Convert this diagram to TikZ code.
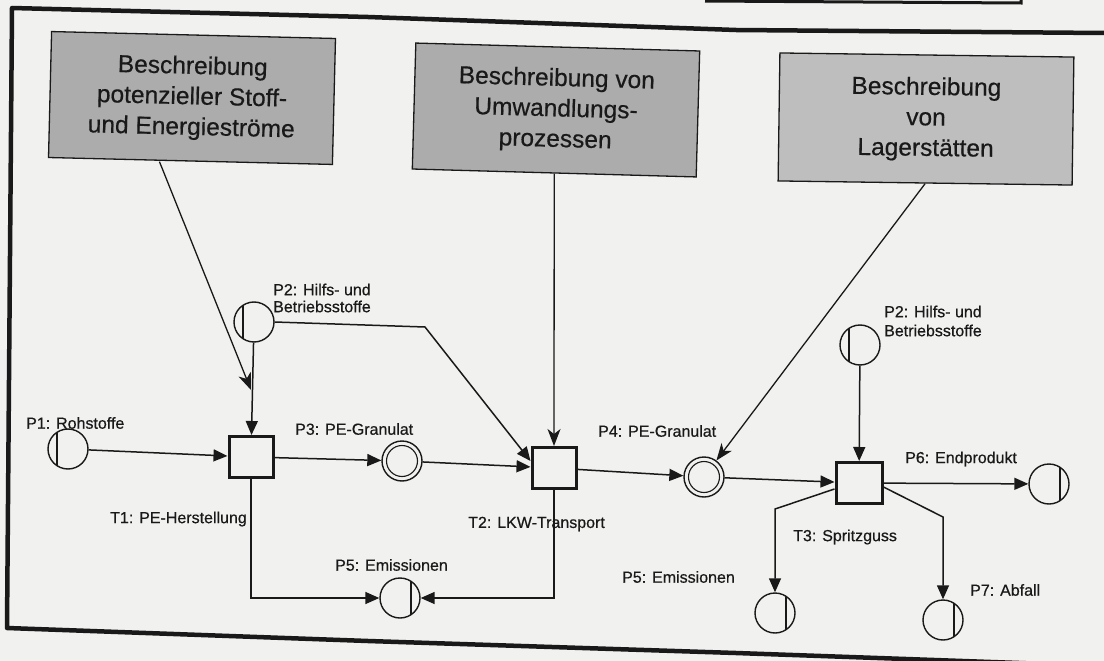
\documentclass[tikz,border=0pt]{standalone}
\usepackage{fontspec}
\setmainfont{Liberation Sans}[FakeBold=0.5]
\usetikzlibrary{arrows.meta,calc}
\definecolor{paper}{RGB}{241,241,239}
\definecolor{boxgray}{RGB}{172,172,172}
\definecolor{boxlight}{RGB}{190,190,190}
\definecolor{ink}{RGB}{25,25,25}
\tikzset{
  desc/.style={draw=ink, line width=1.3pt, fill=boxgray, minimum width=284pt, minimum height=126pt,
    align=center, font=\fontsize{24.5}{30.5}\selectfont, inner sep=0pt, text=ink},
  place/.style={circle, draw=ink, line width=1.4pt, minimum size=40pt, inner sep=0pt},
  srcplace/.style={place, path picture={\draw[ink, line width=1.1pt]
      ([xshift=-11pt]path picture bounding box.north) -- ([xshift=-11pt]path picture bounding box.south);}},
  sinkplace/.style={place, path picture={\draw[ink, line width=1.1pt]
      ([xshift=11pt]path picture bounding box.north) -- ([xshift=11pt]path picture bounding box.south);}},
  dplace/.style={place, path picture={\draw[ink, line width=1.1pt]
      (path picture bounding box.center) circle[radius=15.5pt];}},
  trans/.style={draw=ink, line width=3pt, minimum width=44pt, minimum height=41pt, inner sep=0pt},
  lbl/.style={font=\fontsize{16}{17}\selectfont, inner sep=0pt, text=ink},
  flow/.style={draw=ink, line width=1.5pt, -{Triangle[length=14pt,width=12pt]}},
  link/.style={draw=ink, line width=1.3pt, -{Stealth[length=17pt,width=13pt,inset=5pt]}},
  frameline/.style={draw=ink, line width=4.5pt, line join=round},
}
\begin{document}
\begin{tikzpicture}[x=1pt,y=-1pt]
\useasboundingbox (0,0) rectangle (1104,661);
\fill[paper] (0,0) rectangle (1104,661);

% outer frame and the edge of the figure above
\draw[frameline] (1104,33) -- (736,30) -- (368,17) -- (12,8) -- (7,628) -- (368,641) -- (736,653) -- (1104,666);
\draw[draw=ink, line width=3pt] (705,1) -- (1021,3) -- (1021,-3);

% description boxes
\node[desc, rotate=-1.4] (box1) at (192,98) {Beschreibung\\potenzieller Stoff-\\und Energieströme};
\node[desc, rotate=-1.6] (box2) at (556,110) {Beschreibung von\\Umwandlungs-\\prozessen};
\node[desc, fill=boxlight, minimum width=294pt, minimum height=128pt, rotate=-0.8] (box3) at (926,119) {Beschreibung\\von\\Lagerstätten};

% places
\node[srcplace] (p1) at (68,449) {};
\node[srcplace] (p2a) at (254,322) {};
\node[dplace] (p3) at (402,461) {};
\node[dplace] (p4) at (704,477) {};
\node[sinkplace] (p5a) at (400,598) {};
\node[srcplace] (p2b) at (860,345) {};
\node[sinkplace] (p6) at (1049,484) {};
\node[sinkplace] (p5b) at (775,613) {};
\node[sinkplace] (p7) at (943,620) {};

% transitions
\node[trans] (t1) at (251,457) {};
\node[trans] (t2) at (554,468) {};
\node[trans, minimum width=46pt] (t3) at (859,483) {};

% helper points
\coordinate (m1) at (251,390);
\coordinate (k1) at (425,327);
\coordinate (k2) at (775,509);
\coordinate (k3) at (943,517);

% links from description boxes
\draw[link] ([xshift=-31pt]box1.south) -- (m1);
\draw[link] (box2.south) -- (t2.north);
\draw[link] (box3.south) -- (p4);

% flows
\draw[flow] (p1) -- (t1);
\draw[flow] (p2a) -- (t1);
\draw[flow] (p2a.east) -- (k1) -- ($(t2.west)+(0,-7)$);
\draw[flow] (t1) -- (p3);
\draw[flow] (p3) -- (t2);
\draw[flow] (t2) -- (p4);
\draw[flow] (p4) -- (t3);
\draw[flow] (p2b) -- (t3);
\draw[flow] (t3) -- (p6);
\draw[flow] ($(t3.west)+(0,6)$) -- (k2) -- (p5b);
\draw[flow] ($(t3.east)+(0,4)$) -- (k3) -- (p7);
\draw[flow] (t1.south) |- (p5a.west);
\draw[flow] (t2.south) |- (p5a.east);

% labels
\node[lbl, anchor=west] (lp1) at (26,423) {P1: Rohstoffe};
\node[lbl, anchor=west, align=left] (lp2a) at (273,298) {P2: Hilfs- und\\Betriebsstoffe};
\node[lbl, anchor=west] (lp3) at (295,429) {P3: PE-Granulat};
\node[lbl, anchor=west] (lp4) at (598,431) {P4: PE-Granulat};
\node[lbl, anchor=west] (lp5a) at (335,565) {P5: Emissionen};
\node[lbl, anchor=west] (lp5b) at (622,577) {P5: Emissionen};
\node[lbl, anchor=east] (lt1) at (247,519) {T1: PE-Herstellung};
\node[lbl, anchor=west] (lt2) at (468,524) {T2: LKW-Transport};
\node[lbl, anchor=west] (lt3) at (793,537) {T3: Spritzguss};
\node[lbl, anchor=west, align=left, font=\fontsize{16}{19}\selectfont] (lp2b) at (884,321) {P2: Hilfs- und\\Betriebsstoffe};
\node[lbl, anchor=west] (lp6) at (905,459) {P6: Endprodukt};
\node[lbl, anchor=west] (lp7) at (970,590) {P7: Abfall};
\end{tikzpicture}
\end{document}
